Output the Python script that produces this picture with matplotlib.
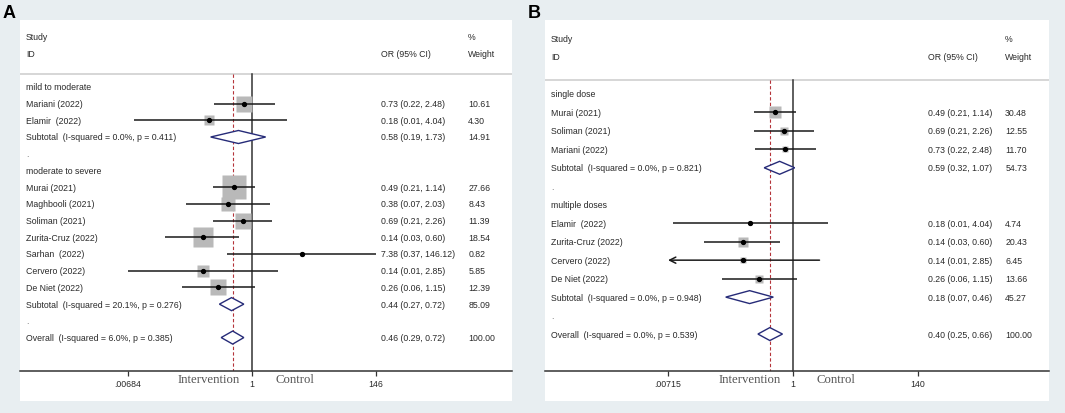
import numpy as np
import matplotlib
matplotlib.use('Agg')
import matplotlib.pyplot as plt

# ---- panel A data (by severity) ----
a_groups = ['mild to moderate', 'moderate to severe']
a_studies = [['Mariani (2022)', 'Elamir  (2022)'],
             ['Murai (2021)', 'Maghbooli (2021)', 'Soliman (2021)', 'Zurita-Cruz (2022)',
              'Sarhan  (2022)', 'Cervero (2022)', 'De Niet (2022)']]
a_or = [[0.73, 0.18], [0.49, 0.38, 0.69, 0.14, 7.38, 0.14, 0.26]]
a_lo = [[0.22, 0.0086], [0.21, 0.07, 0.21, 0.03, 0.37, 0.0070, 0.06]]
a_hi = [[2.48, 4.04], [1.14, 2.03, 2.26, 0.60, 146.12, 2.85, 1.15]]
a_wt = [[10.61, 4.30], [27.66, 8.43, 11.39, 18.54, 0.82, 5.85, 12.39]]
# subtotal: or, lo, hi, weight, I-squared, p
a_sub = [(0.58, 0.19, 1.73, 14.91, 0.0, 0.411), (0.44, 0.27, 0.72, 85.09, 20.1, 0.276)]
a_overall = (0.46, 0.29, 0.72, 100.00, 6.0, 0.385)
a_ticks = [1 / 146.12, 1, 146.12]
a_ticklabels = ['.00684', '1', '146']

# ---- panel B data (by dosing) ----
b_groups = ['single dose', 'multiple doses']
b_studies = [['Murai (2021)', 'Soliman (2021)', 'Mariani (2022)'],
             ['Elamir  (2022)', 'Zurita-Cruz (2022)', 'Cervero (2022)', 'De Niet (2022)']]
b_or = [[0.49, 0.69, 0.73], [0.18, 0.14, 0.14, 0.26]]
b_lo = [[0.21, 0.21, 0.22], [0.0086, 0.03, 0.0070, 0.06]]
b_hi = [[1.14, 2.26, 2.48], [4.04, 0.60, 2.85, 1.15]]
b_wt = [[30.48, 12.55, 11.70], [4.74, 20.43, 6.45, 13.66]]
b_sub = [(0.59, 0.32, 1.07, 54.73, 0.0, 0.821), (0.18, 0.07, 0.46, 45.27, 0.0, 0.948)]
b_overall = (0.40, 0.25, 0.66, 100.00, 0.0, 0.539)
b_ticks = [1 / 139.9, 1, 139.9]
b_ticklabels = ['.00715', '1', '140']

W, H = 1065, 414
BG = '#e8eef1'
TXT = '#2a2a2a'
SANS = 'Liberation Sans'
FS = 6.3


def fmt_ci(o, l, h):
    return f'{o:.2f} ({l:.2f}, {h:.2f})'


def draw_panel(fig, letter, box, one_px, px_per_ln, cols, box_k, diam_h,
               groups, studies, ors, los, his, wts, subs, overall, ticks, ticklabels):
    x0, x1, ytop, yaxis, ybot = box
    # white background panel
    fig.patches.append(plt.Rectangle((x0 / W, 1 - ybot / H), (x1 - x0) / W, (ybot - ytop) / H,
                                     transform=fig.transFigure, facecolor='white',
                                     edgecolor='none', zorder=-5))
    fig.text((x0 - 17) / W, 1 - 18 / H, letter, fontsize=13, fontweight='bold',
             family=SANS, color='black')

    ax = fig.add_axes([x0 / W, 1 - yaxis / H, (x1 - x0) / W, (yaxis - ytop) / H])
    ax.set_facecolor('none')
    ax.patch.set_visible(False)
    ax.set_xscale('log')
    ax.set_xlim(np.exp(-(one_px - x0) / px_per_ln), np.exp((x1 - one_px) / px_per_ln))

    nrows = sum(len(s) for s in studies) + 3 * len(groups) + 1
    ax.set_ylim(nrows + 1, -4)
    for s in ['top', 'left', 'right']:
        ax.spines[s].set_visible(False)
    ax.spines['bottom'].set_color('#333333')
    ax.spines['bottom'].set_linewidth(1.1)
    ax.set_yticks([])
    ax.set_xticks(ticks)
    ax.set_xticklabels(ticklabels)
    ax.minorticks_off()
    ax.tick_params(axis='x', length=3.5, width=0.9, color='#333333', pad=2,
                   labelsize=FS, labelcolor=TXT)
    for t in ax.get_xticklabels():
        t.set_family(SANS)

    tr = ax.get_yaxis_transform()
    lab_x, or_x, w_x = cols

    def txt(x, y, s, **kw):
        ax.text(x, y, s, transform=tr, fontsize=FS, family=SANS, color=TXT,
                va='center', ha='left', clip_on=False, **kw)

    # header
    txt(lab_x, -3, 'Study')
    txt(lab_x, -2, 'ID')
    txt(or_x, -2, 'OR (95% CI)')
    txt(w_x, -3, '%')
    txt(w_x, -2, 'Weight')
    sep = -0.77
    ax.axhline(sep, color='#d6d6d6', lw=1.4, zorder=1)

    def diamond(y, o, l, h):
        ax.fill([l, o, h, o, l], [y, y - diam_h, y, y + diam_h, y], facecolor='white',
                edgecolor='#262b78', lw=1.0, zorder=4)

    row = 0
    for g, name in enumerate(groups):
        txt(lab_x, row, name)
        row += 1
        for i, st in enumerate(studies[g]):
            o, l, h, w = ors[g][i], los[g][i], his[g][i], wts[g][i]
            txt(lab_x, row, st)
            txt(or_x, row, fmt_ci(o, l, h))
            txt(w_x, row, f'{w:.2f}')
            side = box_k * np.sqrt(w) * 0.72
            ax.plot([o], [row], marker='s', ms=side, color='#b9b9b9', mec='none', zorder=2)
            if l < ticks[0]:
                ax.annotate('', xy=(ticks[0], row), xytext=(h, row),
                            arrowprops=dict(arrowstyle='->', lw=1.1, color='#1a1a1a',
                                            mutation_scale=11, shrinkA=0, shrinkB=0),
                            zorder=3)
            else:
                ax.plot([l, h], [row, row], color='#1a1a1a', lw=1.1, zorder=3,
                        solid_capstyle='butt')
            ax.plot([o], [row], marker='o', ms=2.8, color='black', zorder=5)
            row += 1
        so, sl, sh, sw, isq, p = subs[g]
        txt(lab_x, row, f'Subtotal  (I-squared = {isq:.1f}%, p = {p:.3f})')
        txt(or_x, row, fmt_ci(so, sl, sh))
        txt(w_x, row, f'{sw:.2f}')
        diamond(row, so, sl, sh)
        row += 1
        txt(lab_x, row, '.', alpha=0.6)
        row += 1
    oo, ol, oh, ow, isq, p = overall
    txt(lab_x, row, f'Overall  (I-squared = {isq:.1f}%, p = {p:.3f})')
    txt(or_x, row, fmt_ci(oo, ol, oh))
    txt(w_x, row, f'{ow:.2f}')
    diamond(row, oo, ol, oh)

    ax.plot([1, 1], [sep, nrows + 1], color='#333333', lw=1.1, zorder=1, clip_on=False)
    ax.plot([oo, oo], [sep, nrows + 1], color='#b5343a', lw=0.8, ls=(0, (3, 2)), zorder=1)

    ax.annotate('Intervention', xy=(1, 0), xycoords=('data', 'axes fraction'),
                xytext=(-9, -6), textcoords='offset points', ha='right', va='center',
                fontsize=9.2, family='Liberation Serif', color='#555555')
    ax.annotate('Control', xy=(1, 0), xycoords=('data', 'axes fraction'),
                xytext=(17, -5.5), textcoords='offset points', ha='left', va='center',
                fontsize=9.2, family='Liberation Serif', color='#555555')
    return ax


fig = plt.figure(figsize=(W / 100, H / 100), dpi=100, facecolor=BG)

draw_panel(fig, 'A', (20, 512, 21, 372, 402), 252, 24.9, (0.012, 0.734, 0.911), 4.75, 0.39,
           a_groups, a_studies, a_or, a_lo, a_hi, a_wt, a_sub, a_overall,
           a_ticks, a_ticklabels)
draw_panel(fig, 'B', (545, 1049, 21, 372, 402), 793, 25.3, (0.012, 0.760, 0.913), 2.0, 0.35,
           b_groups, b_studies, b_or, b_lo, b_hi, b_wt, b_sub, b_overall,
           b_ticks, b_ticklabels)

fig.savefig('out.png', dpi=100, facecolor=BG)
